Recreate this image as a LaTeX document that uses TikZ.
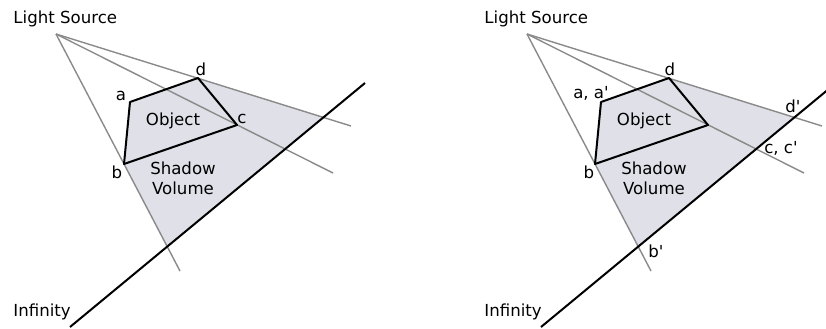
\documentclass[tikz,border=0pt]{standalone}
\usepackage{fontspec}
\setmainfont{DejaVu Sans}[Ligatures=TeXOff]
\usepackage{tikz}
\usetikzlibrary{positioning}
\definecolor{raygray}{HTML}{8A8A8A}
\definecolor{shadefill}{HTML}{DFE0E8}
\tikzset{
  font=\fontsize{8.3}{10}\selectfont,
  %
  ray/.style={draw=raygray, line width=0.7pt},
  edge/.style={draw=black, line width=1pt, line join=round},
  volume/.style={fill=shadefill},
  %
  lbl/.style={inner sep=0pt, anchor=base},
  title/.style={inner sep=0pt, anchor=base west},
}
\begin{document}
\begin{tikzpicture}[x=0.5pt, y=-0.5pt]
  \useasboundingbox (0,0) rectangle (826,328);
  \clip (0,0) rectangle (826,328);

  % --- both panels share the same geometry ----------------------------------
  \foreach \p/\dx in {l/0, r/471} {
    \begin{scope}[shift={(\dx,0)}]
      \coordinate (light\p) at (56,34);
      \coordinate (a\p) at (130,102);
      \coordinate (b\p) at (124,164);
      \coordinate (c\p) at (237,125);
      \coordinate (d\p) at (198,78);
      \coordinate (bfar\p) at (167,247);
      \coordinate (dfar\p) at (323,117);
      \coordinate (bend\p) at (180,271);
      \coordinate (cend\p) at (333,173);
      \coordinate (dend\p) at (351,126);
      \coordinate (infa\p) at (70,327);
      \coordinate (infb\p) at (365,83);

      \fill[volume] (a\p) -- (b\p) -- (bfar\p) -- (dfar\p) -- (d\p) -- cycle;
      \foreach \e in {bend,cend,dend} { \draw[ray] (light\p) -- (\e\p); }
      \draw[edge] (a\p) -- (b\p) -- (c\p) -- (d\p) -- cycle;
      \draw[edge] (infa\p) -- (infb\p);

      \node[title] (src\p) at (13,23) {Light Source};
      \node[title] (inf\p) at (13,316) {Infinity};
      \node[lbl] (obj\p) at (173,125) {Object};
      \node[lbl, align=center] (vol\p) at (183,194) {Shadow\\Volume};
    \end{scope}
  }

  % --- vertex labels, left -------------------------------------------------
  \node[lbl] (la) at (121,100) {a};
  \node[lbl] (lb) at (117,178) {b};
  \node[lbl] (lc) at (242,123) {c};
  \node[lbl] (ld) at (201,75) {d};

  % --- vertex labels, right ------------------------------------------------
  \node[lbl] (ra) at (591,98) {a, a'};
  \node[lbl] (rb) at (589,178) {b};
  \node[lbl] (rbp) at (656,257) {b'};
  \node[lbl] (rc) at (781,153) {c, c'};
  \node[lbl] (rd) at (670,75) {d};
  \node[lbl] (rdp) at (793,112) {d'};

\end{tikzpicture}
\end{document}
